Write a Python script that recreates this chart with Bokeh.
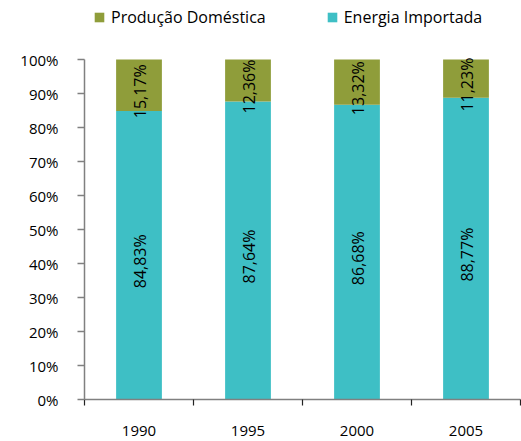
from bokeh.plotting import figure
from bokeh.models import (ColumnDataSource, FixedTicker, Legend, LegendItem, Range1d, LabelSet)
from bokeh.core.properties import value
from bokeh.embed import file_html
from bokeh.resources import INLINE
import math

years = ["1990", "1995", "2000", "2005"]
importada = [84.83, 87.64, 86.68, 88.77]
domestica = [15.17, 12.36, 13.32, 11.23]
y_ticks = [0, 10, 20, 30, 40, 50, 60, 70, 80, 90, 100]
y_tick_labels = ["0%", "10%", "20%", "30%", "40%", "50%", "60%", "70%", "80%", "90%", "100%"]
series_names = ["Energia Importada", "Produção Doméstica"]
colors = ["#3ebfc5", "#8f9d3a"]

FONT = "Open Sans"

def fmt(v):
    return ("%.2f" % v).replace(".", ",") + "%"

xs = [i + 0.5 for i in range(len(years))]
src = ColumnDataSource(dict(
    x=xs,
    importada=importada,
    domestica=domestica,
    imp_mid=[v / 2 for v in importada],
    dom_mid=[a + b / 2 for a, b in zip(importada, domestica)],
    imp_lab=[fmt(v) for v in importada],
    dom_lab=[fmt(v) for v in domestica],
))

# frame reaches the top of the figure so the legend sits inside it;
# 100% lies 340 px above the baseline, the frame is 399 px tall
p = figure(width=521, height=441, output_backend="svg", toolbar_location=None,
           x_range=Range1d(0, len(years)), y_range=Range1d(0, 100 * 399 / 340),
           min_border_left=84, min_border_right=1, min_border_top=0, min_border_bottom=42)
p.outline_line_color = None
p.xgrid.grid_line_color = None
p.ygrid.grid_line_color = None
p.background_fill_color = "white"
p.border_fill_color = "white"

rs = p.vbar_stack(["importada", "domestica"], x="x", width=0.42, source=src,
                  color=colors, line_color=None)

for ycol, tcol in (("imp_mid", "imp_lab"), ("dom_mid", "dom_lab")):
    p.add_layout(LabelSet(x="x", y=ycol, text=tcol, source=src, angle=math.pi / 2,
                          x_offset=1, y_offset=-6,
                          text_align="center", text_baseline="middle", text_color="black",
                          text_font=value(FONT), text_font_size=value("16px")))

# y axis
ya = p.yaxis[0]
ya.bounds = (0, 100)
ya.ticker = FixedTicker(ticks=y_ticks, minor_ticks=[])
ya.major_label_overrides = {t: l for t, l in zip(y_ticks, y_tick_labels)}
ya.major_tick_out = 7
ya.major_tick_in = 0
ya.minor_tick_out = 0
ya.minor_tick_in = 0
ya.axis_line_color = "#808080"
ya.axis_line_width = 1.5
ya.major_tick_line_color = "#808080"
ya.major_tick_line_width = 1.5
ya.major_label_standoff = 19
ya.major_label_text_font = FONT
ya.major_label_text_font_size = "15px"
ya.major_label_text_color = "black"

# x axis: labels at centers, ticks at boundaries
xa = p.xaxis[0]
xa.ticker = FixedTicker(ticks=xs, minor_ticks=list(range(len(years) + 1)))
xa.major_label_overrides = {x: y for x, y in zip(xs, years)}
xa.major_tick_out = 0
xa.major_tick_in = 0
xa.minor_tick_out = 6
xa.minor_tick_in = 0
xa.minor_tick_line_color = "#222222"
xa.minor_tick_line_width = 1.2
xa.axis_line_color = "#808080"
xa.axis_line_width = 1.5
xa.major_label_standoff = 20
xa.major_label_text_font = FONT
xa.major_label_text_font_size = "15px"
xa.major_label_text_color = "black"

legend = Legend(items=[LegendItem(label=series_names[1], renderers=[rs[1]]),
                       LegendItem(label=series_names[0], renderers=[rs[0]])],
                location=(9, 371), orientation="horizontal",
                glyph_width=12, glyph_height=12, label_standoff=6, spacing=60,
                label_height=20,
                label_text_font=FONT, label_text_font_size="16px",
                label_text_color="black", padding=0, margin=0,
                border_line_color=None, background_fill_alpha=0)
p.add_layout(legend, "center")

open("out.html", "w").write(file_html(p, INLINE))
